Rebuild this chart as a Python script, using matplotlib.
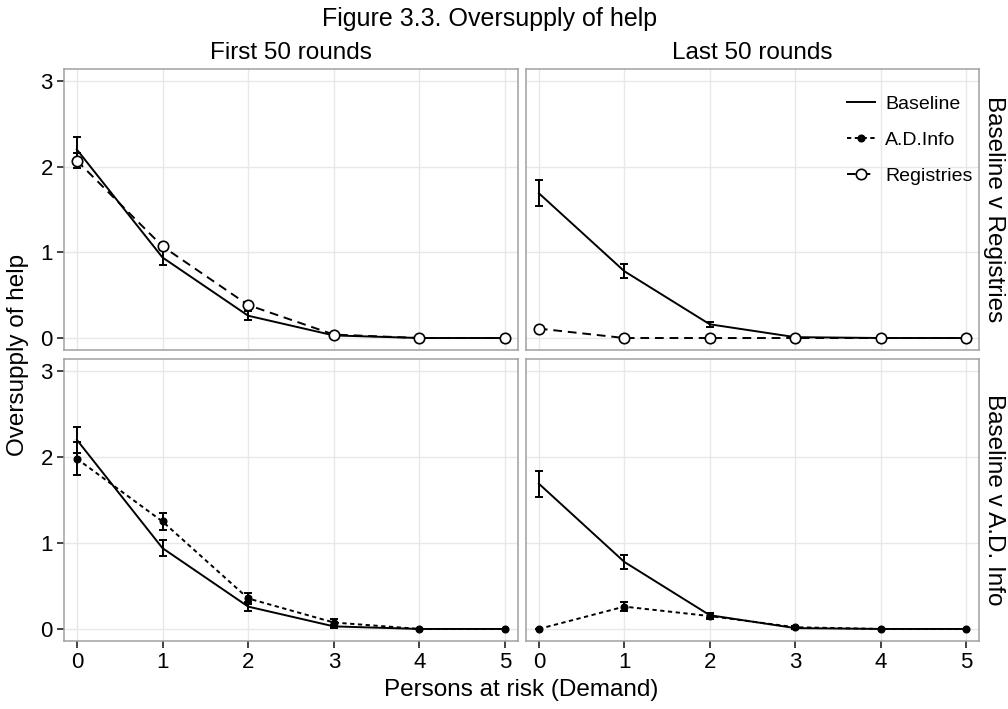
import matplotlib
matplotlib.use("Agg")
import matplotlib.pyplot as plt
from matplotlib.lines import Line2D

plt.rcParams['font.family'] = ['Liberation Sans', 'DejaVu Sans']

# ---- data ----
demand = [0, 1, 2, 3, 4, 5]
x_ticks = [0, 1, 2, 3, 4, 5]
y_ticks = [0, 1, 2, 3]
col_titles = ["First 50 rounds", "Last 50 rounds"]
row_titles = ["Baseline v Registries", "Baseline v A.D. Info"]

first_baseline = [2.20, 0.94, 0.26, 0.03, 0.00, 0.00]
first_baseline_se = [0.15, 0.09, 0.055, 0.02, 0.0, 0.0]
first_registries = [2.07, 1.07, 0.385, 0.04, 0.0, 0.0]
first_registries_se = [0.09, 0.04, 0.03, 0.01, 0.0, 0.0]
first_adinfo = [1.98, 1.25, 0.355, 0.075, 0.0, 0.0]
first_adinfo_se = [0.19, 0.10, 0.06, 0.045, 0.0, 0.0]

last_baseline = [1.69, 0.78, 0.16, 0.01, 0.0, 0.0]
last_baseline_se = [0.15, 0.085, 0.03, 0.01, 0.0, 0.0]
last_registries = [0.11, 0.0, 0.0, 0.0, 0.0, 0.0]
last_registries_se = [0.02, 0.0, 0.0, 0.0, 0.0, 0.0]
last_adinfo = [0.0, 0.26, 0.15, 0.02, 0.0, 0.0]
last_adinfo_se = [0.0, 0.05, 0.03, 0.02, 0.0, 0.0]

# ---- styles ----
W, H = 1008, 709
fig = plt.figure(figsize=(W / 100, H / 100), dpi=100)

LW = 1.4
CAP = 2.7
styles = {
    "Baseline": dict(ls="-", marker=None),
    "A.D.Info": dict(ls=(0, (2.2, 1.8)), marker="o", ms=4.8, mfc="black", mec="black"),
    "Registries": dict(ls=(0, (4.5, 3)), marker="o", ms=7.5, mfc="white", mec="black", mew=1.2),
}

def px_axes(x0, y0, x1, y1):
    return fig.add_axes([x0 / W, 1 - y1 / H, (x1 - x0) / W, (y1 - y0) / H])

cols = [(64, 518), (526, 979)]
rows = [(69, 350), (359, 641)]

panels = {
    (0, 0): [("Baseline", first_baseline, first_baseline_se), ("Registries", first_registries, first_registries_se)],
    (0, 1): [("Baseline", last_baseline, last_baseline_se), ("Registries", last_registries, last_registries_se)],
    (1, 0): [("Baseline", first_baseline, first_baseline_se), ("A.D.Info", first_adinfo, first_adinfo_se)],
    (1, 1): [("Baseline", last_baseline, last_baseline_se), ("A.D.Info", last_adinfo, last_adinfo_se)],
}

axes = {}
for r, (y0, y1) in enumerate(rows):
    for c, (x0, x1) in enumerate(cols):
        ax = px_axes(x0, y0, x1, y1)
        axes[(r, c)] = ax
        ax.set_xlim(-0.15, 5.15)
        ax.set_ylim(-0.14, 3.14)
        ax.set_xticks(x_ticks)
        ax.set_yticks(y_ticks)
        ax.grid(True, color="#e8e8e8", lw=1.0)
        ax.set_axisbelow(True)
        for s in ax.spines.values():
            s.set_color("#a0a0a0")
            s.set_linewidth(1.1)
        ax.tick_params(axis="both", length=5, width=1.3, color="#333333",
                       labelsize=16, labelcolor="black", pad=3)
        if r == 0:
            ax.tick_params(axis="x", length=0, labelbottom=False)
            ax.set_title(col_titles[c], fontsize=17.5, pad=7)
        if c == 1:
            ax.tick_params(axis="y", length=0, labelleft=False)
            ax.text(1.009, 0.5, row_titles[r], transform=ax.transAxes, rotation=270,
                    ha="left", va="center", fontsize=17.5)
        series = panels[(r, c)]
        for name, vals, se in series[::-1]:
            ax.errorbar(demand, vals, yerr=se, fmt="none", ecolor="black",
                        elinewidth=LW, capsize=CAP, capthick=LW, zorder=2)
        for name, vals, se in series[::-1]:
            st = styles[name]
            ax.plot(demand, vals, color="black", lw=LW, ls=st["ls"], zorder=3)
        for name, vals, se in series[::-1]:
            st = styles[name]
            if st["marker"]:
                ax.plot(demand, vals, ls="none", marker=st["marker"], ms=st["ms"],
                        mfc=st["mfc"], mec=st["mec"], mew=st.get("mew", 1.0), zorder=4)

# legend
handles = [
    Line2D([], [], color="black", lw=LW, ls=styles["Baseline"]["ls"]),
    Line2D([], [], color="black", lw=LW, ls=styles["A.D.Info"]["ls"], marker="o", ms=4.8,
           mfc="black", mec="black"),
    Line2D([], [], color="black", lw=LW, ls=styles["Registries"]["ls"], marker="o", ms=7.5,
           mfc="white", mec="black", mew=1.2),
]
axes[(0, 1)].legend(handles, ["Baseline", "A.D.Info", "Registries"], loc="upper left",
                    bbox_to_anchor=((847 - 526) / 453, (350 - 95) / 281), frameon=False,
                    fontsize=14, handlelength=1.45, handletextpad=0.5, labelspacing=0.95,
                    borderaxespad=0, borderpad=0)

fig.text(490 / W, 1 - 19 / H, "Figure 3.3. Oversupply of help", ha="center", va="center", fontsize=18)
fig.text(18 / W, 1 - 355 / H, "Oversupply of help", rotation=90, ha="center", va="center", fontsize=17.5)
fig.text(521 / W, 1 - 690 / H, "Persons at risk (Demand)", ha="center", va="center", fontsize=17.5)

fig.savefig("out.png", dpi=100)
